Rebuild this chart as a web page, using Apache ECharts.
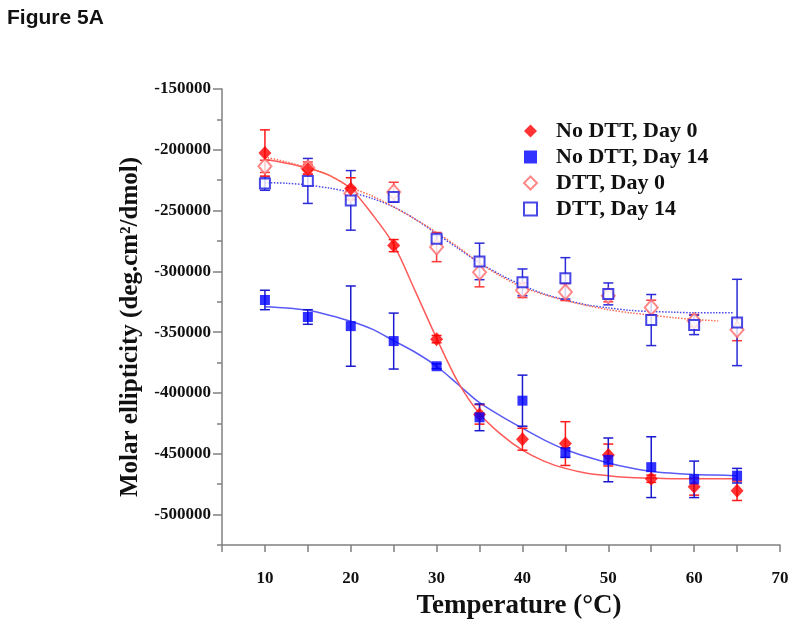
<!DOCTYPE html>
<html><head><meta charset="utf-8">
<script src="https://cdn.jsdelivr.net/npm/echarts@6/dist/echarts.min.js"></script>
<style>html,body{margin:0;padding:0;background:#fff}#c{width:800px;height:628px}</style>
</head><body><div id="c"></div>
<script>
const temps = [10,15,20,25,30,35,40,45,50,55,60,65];

const noDTT0    = [-202600,-216000,-232000,-278800,-355700,-417600,-438000,-441600,-451000,-470500,-477000,-480400];
const noDTT0Err = [19000,4000,9000,5000,3000,8000,9000,18000,9000,3000,7000,8000];
const noDTT14    = [-323500,-337500,-345000,-357300,-378000,-420000,-406300,-449000,-455000,-461000,-471000,-468000];
const noDTT14Err = [8000,6000,33000,23000,2000,11000,21000,4000,18000,25000,15000,6000];
const dtt0    = [-213600,-215000,-236000,-234700,-280000,-300700,-315500,-317000,-320000,-329700,-340500,-348000];
const dtt0Err = [5000,5000,5000,8000,12000,12000,6000,7000,5000,6000,5000,9000];
const dtt14    = [-227800,-225600,-241600,-238800,-273200,-291800,-309000,-305700,-318500,-340000,-344000,-342000];
const dtt14Err = [5500,18500,24500,4000,3000,15000,11000,17000,9000,21000,8000,35500];

const fitT = [10,12.5,15,17.5,20,22.5,25,27.5,30,32.5,35,37.5,40,42.5,45,47.5,50,52.5,55,57.5,60,62.5,65];
const fitNoDTT0  = [-208000,-211000,-215000,-221000,-232000,-253000,-278000,-316000,-355000,-391000,-417000,-434000,-447000,-456000,-462000,-466000,-468000,-469500,-470000,-470500,-470500,-470500,-470500];
const fitNoDTT14 = [-329000,-330000,-332000,-336000,-341000,-347500,-357000,-366500,-378000,-393000,-408000,-419000,-429000,-438500,-446500,-452500,-457500,-461500,-464500,-466000,-467000,-467500,-468000];
const fitDTT0T = [10,12.5,15,17.5,20,22.5,25,27.5,30,32.5,35,37.5,40,42.5,45,47.5,50,52.5,55,57.5,60,62.8];
const fitDTT0  = [-206000,-210000,-215000,-221000,-231000,-238000,-247000,-257000,-268000,-280000,-293000,-304000,-313000,-319000,-324000,-328000,-331500,-334000,-336000,-338000,-339500,-340800];
const fitDTT14T = [10,12.5,15,17.5,20,22.5,25,27.5,30,32.5,35,37.5,40,42.5,45,47.5,50,52.5,55,57.5,60,62.5,64.5];
const fitDTT14  = [-227000,-227500,-229000,-231500,-235000,-240000,-247000,-257000,-269000,-281000,-293000,-303000,-311500,-318500,-323500,-327500,-330000,-332000,-333000,-333500,-334000,-334000,-334000];

const yMajorTicks = [-500000,-450000,-400000,-350000,-300000,-250000,-200000,-150000];
const yMinorTicks = [-525000,-475000,-425000,-375000,-325000,-275000,-225000,-175000];
const xLabelTicks = [10,20,30,40,50,60,70];

const serif = 'Liberation Serif';
const axisGray = '#808080';

function pairs(xs, ys){ return xs.map((x,i)=>[x, ys[i]]); }

function errSeries(vals, errs, color){
  return {
    type:'custom', silent:true, z:3,
    data: temps.map((t,i)=>[t, vals[i]-errs[i], vals[i]+errs[i]]),
    renderItem(params, api){
      const x = api.value(0);
      const lo = api.coord([x, api.value(1)]);
      const hi = api.coord([x, api.value(2)]);
      const w = 5;
      const st = {stroke: color, lineWidth: 1.5};
      return {type:'group', children:[
        {type:'line', shape:{x1:lo[0],y1:lo[1],x2:hi[0],y2:hi[1]}, style:st},
        {type:'line', shape:{x1:lo[0]-w,y1:lo[1],x2:lo[0]+w,y2:lo[1]}, style:st},
        {type:'line', shape:{x1:hi[0]-w,y1:hi[1],x2:hi[0]+w,y2:hi[1]}, style:st}
      ]};
    }
  };
}

const chart = echarts.init(document.getElementById('c'), null, {renderer:'canvas'});
chart.setOption({
  animation:false,
  backgroundColor:'#fff',
  title:{text:'Figure 5A', left:2, top:3,
    textStyle:{fontFamily:'Liberation Sans', fontWeight:'bold', fontSize:21, color:'#111'}},
  legend:{
    orient:'vertical', left:518, top:115, itemWidth:13, itemHeight:13, itemGap:4,
    textStyle:{fontFamily:serif, fontWeight:'bold', fontSize:22, color:'#111', lineHeight:22, padding:[0,0,0,14]},
    data:[
      {name:'No DTT, Day 0', icon:'diamond'},
      {name:'No DTT, Day 14', icon:'rect'},
      {name:'DTT, Day 0', icon:'emptyDiamond'},
      {name:'DTT, Day 14', icon:'emptyRect'}
    ]
  },
  grid:{left:222, right:20, top:89, bottom:83},
  xAxis:{
    type:'value', min:5, max:70, interval:5,
    name:'Temperature (°C)', nameLocation:'middle', nameGap:48,
    nameTextStyle:{fontFamily:serif, fontWeight:'bold', fontSize:27, color:'#111', padding:[0,0,0,36]},
    axisLine:{lineStyle:{color:axisGray, width:1.5}},
    axisTick:{length:7, lineStyle:{color:axisGray, width:1.5}},
    axisLabel:{margin:25, fontFamily:serif, fontWeight:'bold', fontSize:17, color:'#111',
      formatter:v=> xLabelTicks.indexOf(v) >= 0 ? String(v) : ''},
    splitLine:{show:false}
  },
  yAxis:[{
    type:'value', min:-525000, max:-150000,
    name:'Molar ellipticity (deg.cm²/dmol)', nameLocation:'middle', nameGap:78,
    nameTextStyle:{fontFamily:serif, fontWeight:'bold', fontSize:25, color:'#111', padding:[0,20,0,0]},
    axisLine:{show:true, lineStyle:{color:axisGray, width:1.5}},
    axisTick:{show:true, length:9, customValues:yMajorTicks, lineStyle:{color:axisGray, width:1.5}},
    axisLabel:{margin:11, customValues:yMajorTicks, fontFamily:serif, fontWeight:'bold', fontSize:17, color:'#111',
      formatter:v=>String(v)},
    splitLine:{show:false}
  },{
    type:'value', min:-525000, max:-150000, position:'left',
    axisLine:{show:false},
    axisTick:{show:true, length:5, customValues:yMinorTicks, lineStyle:{color:axisGray, width:1.5}},
    axisLabel:{show:false},
    splitLine:{show:false}
  }],
  series:[
    {type:'line', name:'fit1', data:pairs(fitT, fitNoDTT14), smooth:0.3, showSymbol:false, silent:true, z:1,
      lineStyle:{color:'#5a5af5', width:1.5}},
    {type:'line', name:'fit0', data:pairs(fitT, fitNoDTT0), smooth:0.3, showSymbol:false, silent:true, z:1,
      lineStyle:{color:'#ff5a5a', width:1.5}},
    {type:'line', name:'fit3', data:pairs(fitDTT14T, fitDTT14), smooth:0.3, showSymbol:false, silent:true, z:1,
      lineStyle:{color:'#4a4ae8', width:1.5, type:'dotted'}},
    {type:'line', name:'fit2', data:pairs(fitDTT0T, fitDTT0), smooth:0.3, showSymbol:false, silent:true, z:1,
      lineStyle:{color:'#ff6a50', width:1.5, type:'dotted'}},
    errSeries(dtt0, dtt0Err, '#ff3a3a'),
    errSeries(dtt14, dtt14Err, '#2a2ad8'),
    errSeries(noDTT0, noDTT0Err, '#ff1a1a'),
    errSeries(noDTT14, noDTT14Err, '#1a1ad0'),
    {type:'scatter', name:'DTT, Day 0', data:pairs(temps, dtt0), symbol:'emptyDiamond', symbolSize:[13,15], z:4,
      itemStyle:{color:'#ff6a6a', borderWidth:1.3}},
    {type:'scatter', name:'DTT, Day 14', data:pairs(temps, dtt14), symbol:'emptyRect', symbolSize:10, z:4,
      itemStyle:{color:'#1a1ae0', borderWidth:1.5}},
    {type:'scatter', name:'No DTT, Day 0', data:pairs(temps, noDTT0), symbol:'diamond', symbolSize:[13,14], z:5,
      itemStyle:{color:'#ff0000'}},
    {type:'scatter', name:'No DTT, Day 14', data:pairs(temps, noDTT14), symbol:'rect', symbolSize:10, z:5,
      itemStyle:{color:'#0000ff'}}
  ]
});
</script>
</body></html>
